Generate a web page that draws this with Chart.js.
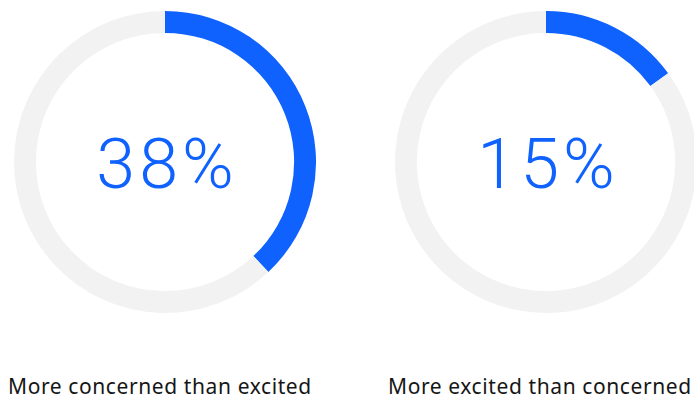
<!DOCTYPE html>
<html>
<head>
<meta charset="utf-8">
<script src="https://cdn.jsdelivr.net/npm/chart.js@4"></script>
<style>
  html, body { margin: 0; padding: 0; background: #fff; }
  body { width: 694px; height: 400px; position: relative; overflow: hidden; }
  .ring { position: absolute; top: 11px; width: 302px; height: 302px; }
  .ring canvas { display: block; }
  .value {
    position: absolute; left: 0; right: 0; top: 0; bottom: 0;
    display: flex; align-items: center; justify-content: center;
    font-family: Roboto, "Open Sans", sans-serif; font-weight: 300;
    font-size: 70px; color: #0f62fe; letter-spacing: 4px;
    padding-top: 4px; padding-left: 4px; box-sizing: border-box;
  }
  .caption {
    position: absolute; top: 372px;
    font-family: "Noto Sans", Roboto, sans-serif; font-size: 21px;
    letter-spacing: 0.6px; color: #161616; white-space: nowrap;
  }
</style>
</head>
<body>
<div class="ring" style="left:14px"><canvas id="c0" width="302" height="302"></canvas><div class="value" id="v0"></div></div>
<div class="ring" style="left:395px"><canvas id="c1" width="302" height="302"></canvas><div class="value" id="v1"></div></div>
<div class="caption" id="t0" style="left:8px"></div>
<div class="caption" id="t1" style="left:388px"></div>
<script>
// share of respondents per answer, in percent
const categories = ['More concerned than excited', 'More excited than concerned'];
const shares = [38, 15];

const accent = '#0f62fe';
const track = '#f2f2f2';

categories.forEach((label, i) => {
  const share = shares[i];
  new Chart(document.getElementById('c' + i), {
    type: 'doughnut',
    data: {
      labels: [label, 'Other'],
      datasets: [{
        data: [share, 100 - share],
        backgroundColor: [accent, track],
        borderWidth: 0
      }]
    },
    options: {
      responsive: false,
      animation: false,
      cutout: '85.5%',
      layout: { padding: 0 },
      plugins: { legend: { display: false }, tooltip: { enabled: false } }
    }
  });
  document.getElementById('v' + i).textContent = share + '%';
  document.getElementById('t' + i).textContent = label;
});
</script>
</body>
</html>
